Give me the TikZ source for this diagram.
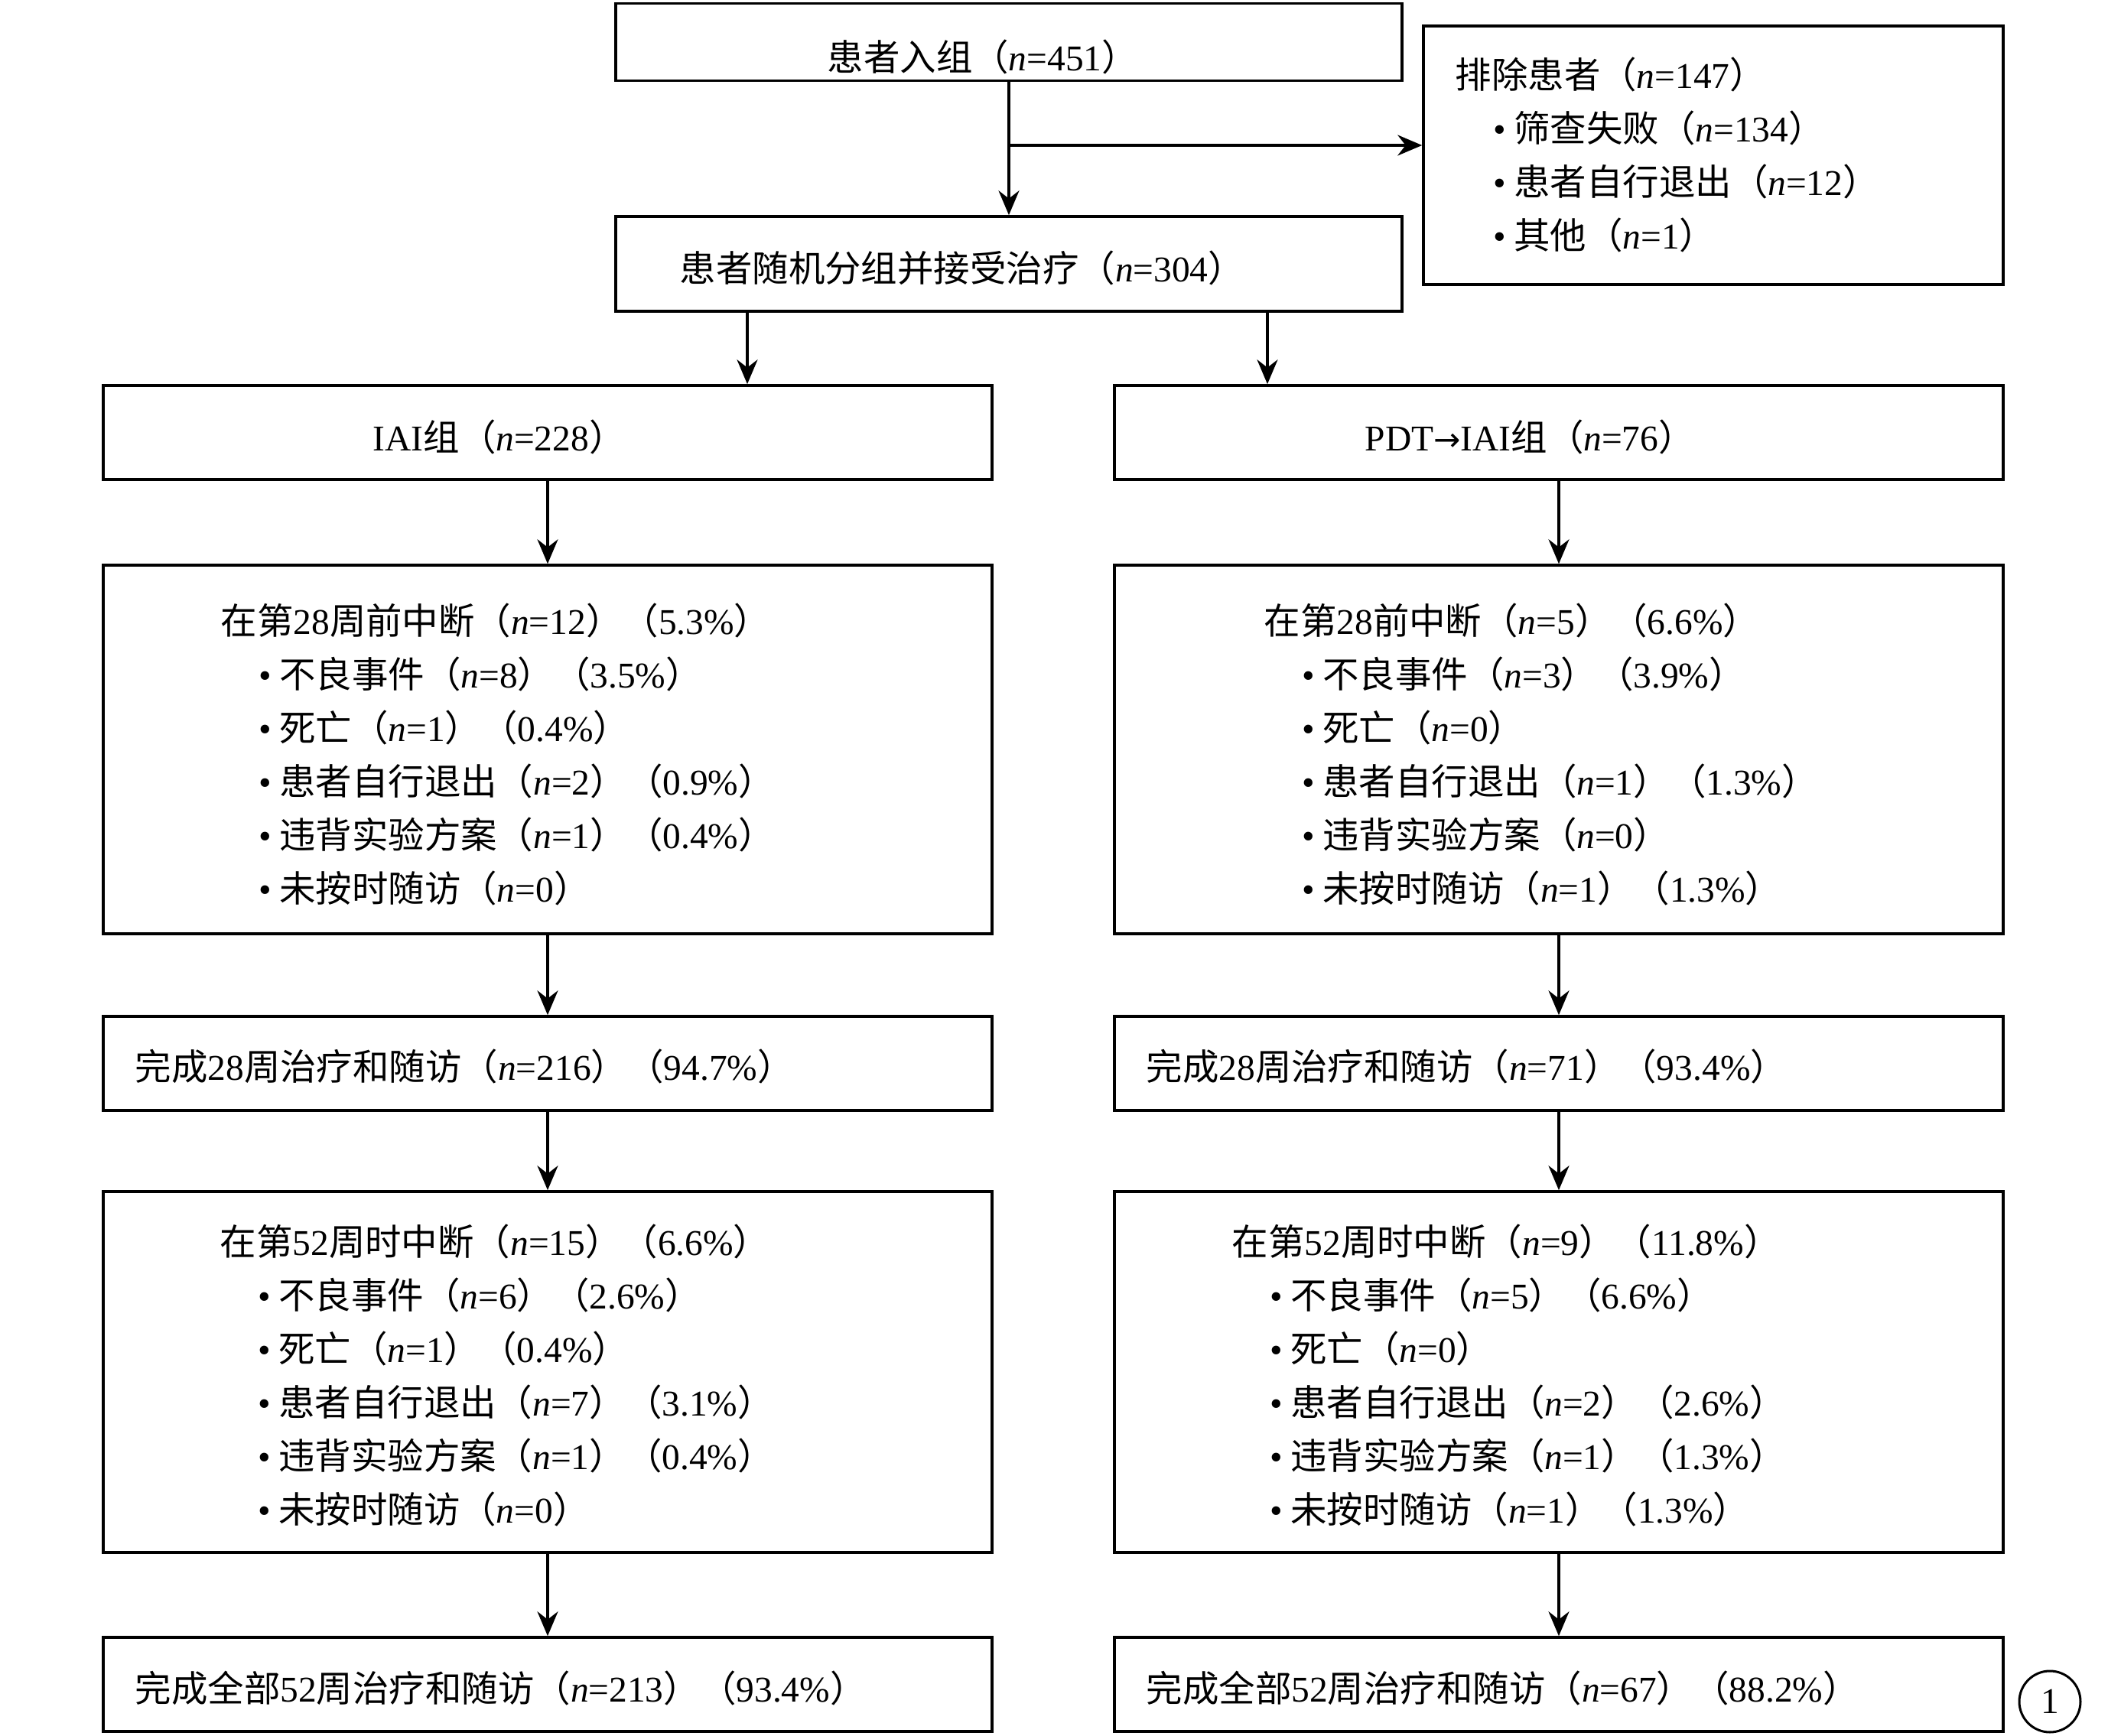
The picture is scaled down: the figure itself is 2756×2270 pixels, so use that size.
\documentclass[tikz,border=0pt]{standalone}
\usepackage{fontspec}
\setmainfont{Liberation Serif}
\newfontfamily\cjk{Noto Sans CJK SC}
\newfontfamily\symf{DejaVu Sans}
\usetikzlibrary{arrows.meta}
\newcommand\zh[1]{{\cjk #1}}
\newcommand\cnt[1]{\zh{（}\textit{n}=#1\zh{）}}
\newcommand\pct[1]{\zh{（}#1\%\zh{）}}
\newcommand\itm{\hspace*{5mm}•\hspace{1mm}}

\begin{document}
\begin{tikzpicture}[x=0.1mm, y=-0.1mm,
  box/.style={draw, line width=0.35mm, inner sep=0pt},
  wide/.style={box, minimum width=116.2mm},
  txt/.style={inner sep=0pt, anchor=west, align=left, font=\fontsize{13.5}{19.92}\selectfont},
  arr/.style={line width=0.35mm, -{Stealth[length=3.2mm, width=2.7mm]}}]
\useasboundingbox (0,0) rectangle (2756,2270);

% Boxes
\node[box, minimum width=102.8mm, minimum height=10.1mm] (enroll) at (1319,55) {};
\node[box, minimum width=75.8mm, minimum height=33.8mm] (excl) at (2240,203) {};
\node[box, minimum width=102.8mm, minimum height=12.4mm] (rand) at (1319,345) {};
\node[wide, minimum height=12.3mm] (grpL) at (716,565.5) {};
\node[wide, minimum height=12.3mm] (grpR) at (2038,565.5) {};
\node[wide, minimum height=48.2mm] (drop28L) at (716,980) {};
\node[wide, minimum height=48.2mm] (drop28R) at (2038,980) {};
\node[wide, minimum height=12.3mm] (done28L) at (716,1390.5) {};
\node[wide, minimum height=12.3mm] (done28R) at (2038,1390.5) {};
\node[wide, minimum height=47.2mm] (drop52L) at (716,1794) {};
\node[wide, minimum height=47.2mm] (drop52R) at (2038,1794) {};
\node[wide, minimum height=12.3mm] (done52L) at (716,2202.5) {};
\node[wide, minimum height=12.3mm] (done52R) at (2038,2202.5) {};

% Texts
\node[txt] (enrollTxt) at (1081,74) {\zh{患者入组}\cnt{451}};
\node[txt] (exclTxt) at (1902,202) {\zh{排除患者}\cnt{147}\\
  \itm\zh{筛查失败}\cnt{134}\\
  \itm\zh{患者自行退出}\cnt{12}\\
  \itm\zh{其他}\cnt{1}};
\node[txt] (randTxt) at (888,350) {\zh{患者随机分组并接受治疗}\cnt{304}};
\node[txt] (grpLTxt) at (487,571) {IAI\zh{组}\cnt{228}};
\node[txt] (grpRTxt) at (1784,571) {PDT{\symf\fontsize{12}{14}\selectfont →}IAI\zh{组}\cnt{76}};
\node[txt] (drop28LTxt) at (288,986) {\zh{在第}28\zh{周前中断}\cnt{12}\pct{5.3}\\
  \itm\zh{不良事件}\cnt{8}\pct{3.5}\\
  \itm\zh{死亡}\cnt{1}\pct{0.4}\\
  \itm\zh{患者自行退出}\cnt{2}\pct{0.9}\\
  \itm\zh{违背实验方案}\cnt{1}\pct{0.4}\\
  \itm\zh{未按时随访}\cnt{0}};
\node[txt] (drop28RTxt) at (1652,986) {\zh{在第}28\zh{前中断}\cnt{5}\pct{6.6}\\
  \itm\zh{不良事件}\cnt{3}\pct{3.9}\\
  \itm\zh{死亡}\cnt{0}\\
  \itm\zh{患者自行退出}\cnt{1}\pct{1.3}\\
  \itm\zh{违背实验方案}\cnt{0}\\
  \itm\zh{未按时随访}\cnt{1}\pct{1.3}};
\node[txt] (done28LTxt) at (176,1394) {\zh{完成}28\zh{周治疗和随访}\cnt{216}\pct{94.7}};
\node[txt] (done28RTxt) at (1498,1394) {\zh{完成}28\zh{周治疗和随访}\cnt{71}\pct{93.4}};
\node[txt] (drop52LTxt) at (287,1798) {\zh{在第}52\zh{周时中断}\cnt{15}\pct{6.6}\\
  \itm\zh{不良事件}\cnt{6}\pct{2.6}\\
  \itm\zh{死亡}\cnt{1}\pct{0.4}\\
  \itm\zh{患者自行退出}\cnt{7}\pct{3.1}\\
  \itm\zh{违背实验方案}\cnt{1}\pct{0.4}\\
  \itm\zh{未按时随访}\cnt{0}};
\node[txt] (drop52RTxt) at (1610,1798) {\zh{在第}52\zh{周时中断}\cnt{9}\pct{11.8}\\
  \itm\zh{不良事件}\cnt{5}\pct{6.6}\\
  \itm\zh{死亡}\cnt{0}\\
  \itm\zh{患者自行退出}\cnt{2}\pct{2.6}\\
  \itm\zh{违背实验方案}\cnt{1}\pct{1.3}\\
  \itm\zh{未按时随访}\cnt{1}\pct{1.3}};
\node[txt] (done52LTxt) at (176,2207) {\zh{完成全部}52\zh{周治疗和随访}\cnt{213}\pct{93.4}};
\node[txt] (done52RTxt) at (1498,2207) {\zh{完成全部}52\zh{周治疗和随访}\cnt{67}\pct{88.2}};

% Figure mark
\node[circle, draw, line width=0.3mm, minimum size=8mm, inner sep=0pt,
  font=\fontsize{13.5}{16}\selectfont] (mark) at (2680,2225) {1};

% Arrows
\coordinate (split) at (1319,190);
\draw[arr] (enroll) -- (rand);
\draw[arr] (split) -- (split -| excl.west);
\draw[arr] ([xshift=-34.2mm]rand.south) -- ([xshift=-34.2mm]rand.south |- grpL.north);
\draw[arr] ([xshift=33.8mm]rand.south) -- ([xshift=33.8mm]rand.south |- grpR.north);
\draw[arr] (grpL) -- (drop28L);
\draw[arr] (grpR) -- (drop28R);
\draw[arr] (drop28L) -- (done28L);
\draw[arr] (drop28R) -- (done28R);
\draw[arr] (done28L) -- (drop52L);
\draw[arr] (done28R) -- (drop52R);
\draw[arr] (drop52L) -- (done52L);
\draw[arr] (drop52R) -- (done52R);
\end{tikzpicture}
\end{document}
